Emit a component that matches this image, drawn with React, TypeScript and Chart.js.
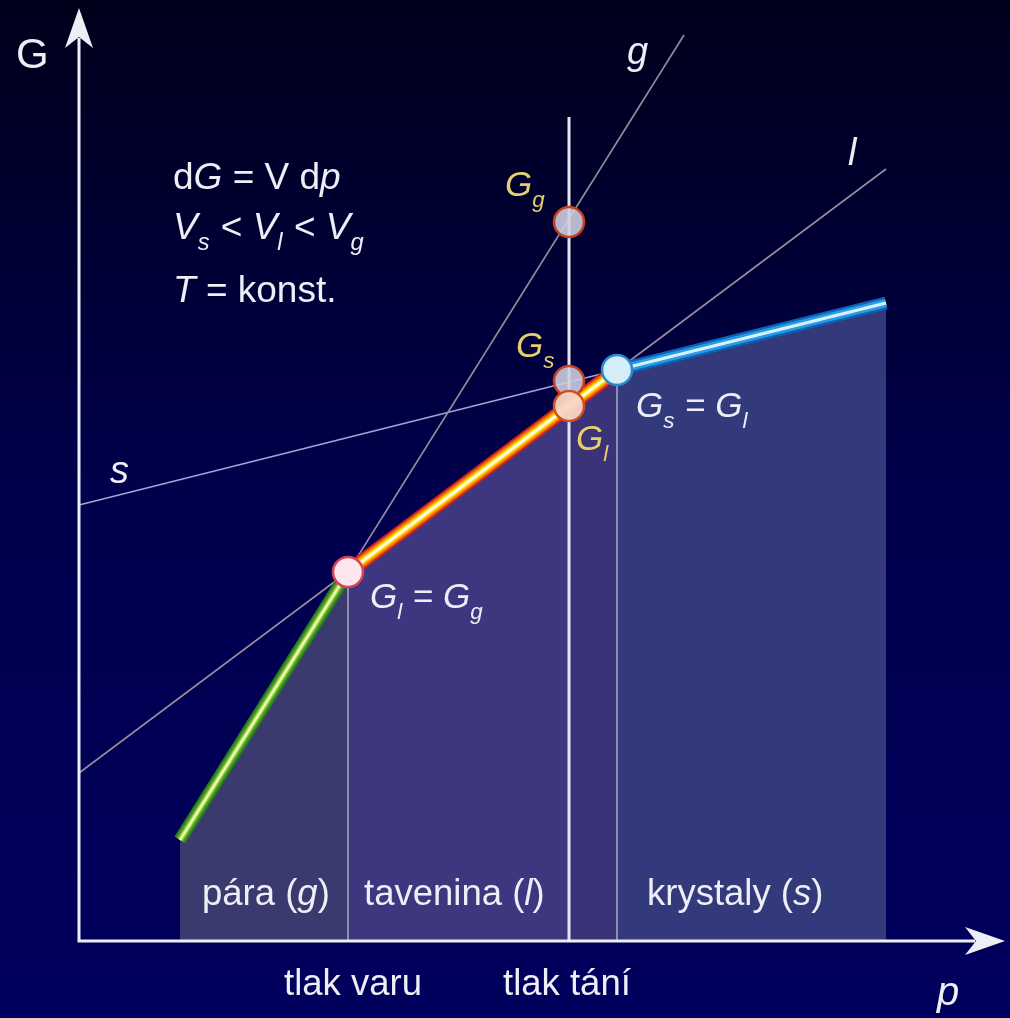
import React, { useEffect, useRef } from "react";
import { Chart, registerables } from "chart.js";

Chart.register(...registerables);

// ---- data (abstract units: p along x, G along y) ----
const boundaryP = [26.9, 53.8]; // tlak varu, rovnováha Gs = Gl
const boundaryTopG = [36.9, 57.1];
const meltP = 49.0; // tlak tání
const meltTopG = 82.4;

const gasP = [10.1, 26.9];
const gasG = [10.1, 36.9];
const liquidP = [26.9, 49.0];
const liquidG = [36.9, 53.5];
const liquidP2 = [49.0, 53.8];
const liquidG2 = [53.5, 57.1];
const solidP = [53.8, 80.7];
const solidG = [57.1, 63.8];

const gLineP = [26.9, 60.5];
const gLineG = [36.9, 90.6];
const lLineP = [0, 80.7];
const lLineG = [16.8, 77.2];
const sLineP = [0, 53.8];
const sLineG = [43.6, 57.1];

const markerP = [26.9, 49.0, 49.0, 49.0, 53.8];
const markerG = [36.9, 71.9, 56.0, 53.5, 57.1];

const phaseLabels = ["pára (", "tavenina (", "krystaly ("];
const phaseSymbols = ["g", "l", "s"];
const pressureLabels = ["tlak varu", "tlak tání"];

const pts = (xs: number[], ys: number[]) => xs.map((x, i) => ({ x, y: ys[i] }));

const FONT = "'Liberation Sans', Arial, Helvetica, sans-serif";
const WHITE = "#eeeef6";
const YELLOW = "#e6cf6c";

type Seg = [string, string?];

function drawRich(ctx: CanvasRenderingContext2D, x: number, y: number, size: number, color: string, segs: Seg[]) {
  let cx = x;
  ctx.fillStyle = color;
  ctx.textBaseline = "alphabetic";
  ctx.textAlign = "left";
  for (const [t, f = ""] of segs) {
    const italic = f.includes("i");
    const sub = f.includes("s");
    const sz = sub ? size * 0.64 : size;
    ctx.font = `${italic ? "italic " : ""}${sz}px ${FONT}`;
    ctx.fillText(t, cx, sub ? y + size * 0.3 : y);
    cx += ctx.measureText(t).width + (sub ? 1 : 0);
  }
}

function arrow(ctx: CanvasRenderingContext2D, tx: number, ty: number, dx: number, dy: number) {
  const len = 40, half = 14, notch = 11;
  const bx = tx - dx * len, by = ty - dy * len;
  const px = -dy, py = dx;
  ctx.beginPath();
  ctx.moveTo(tx, ty);
  ctx.lineTo(bx + px * half, by + py * half);
  ctx.lineTo(tx - dx * (len - notch), ty - dy * (len - notch));
  ctx.lineTo(bx - px * half, by - py * half);
  ctx.closePath();
  ctx.fill();
}

const bgPlugin = {
  id: "bg",
  beforeDraw(chart: any) {
    const { ctx, width, height } = chart;
    const g = ctx.createLinearGradient(0, 0, 0, height);
    g.addColorStop(0, "#00001c");
    g.addColorStop(0.5, "#00004e");
    g.addColorStop(1, "#00005e");
    ctx.save();
    ctx.fillStyle = g;
    ctx.fillRect(0, 0, width, height);
    ctx.restore();
  },
};

const overlayPlugin = {
  id: "overlay",
  afterDatasetsDraw(chart: any) {
    const { ctx } = chart;
    const xs = chart.scales.x, ys = chart.scales.y;
    const x0 = xs.getPixelForValue(0);
    const y0 = ys.getPixelForValue(0);
    const xTip = xs.getPixelForValue(92.6);
    const yTip = ys.getPixelForValue(93.3);
    ctx.save();
    ctx.strokeStyle = WHITE;
    ctx.fillStyle = WHITE;
    ctx.lineWidth = 3;
    ctx.beginPath();
    ctx.moveTo(x0, y0);
    ctx.lineTo(x0, yTip + 30);
    ctx.moveTo(x0 - 1.5, y0);
    ctx.lineTo(xTip - 30, y0);
    ctx.stroke();
    arrow(ctx, x0, yTip, 0, -1);
    arrow(ctx, xTip, y0, 1, 0);

    // axis labels
    drawRich(ctx, 16, 68, 42, WHITE, [["G"]]);
    drawRich(ctx, 937, 1005, 40, WHITE, [["p", "i"]]);
    // line labels
    drawRich(ctx, 627, 64, 38, WHITE, [["g", "i"]]);
    drawRich(ctx, 848, 165, 38, WHITE, [["l", "i"]]);
    drawRich(ctx, 110, 483, 38, WHITE, [["s", "i"]]);
    // formulas
    drawRich(ctx, 173, 189, 37, WHITE, [["d"], ["G", "i"], [" = V d"], ["p", "i"]]);
    drawRich(ctx, 173, 239, 37, WHITE, [["V", "i"], ["s", "is"], [" < "], ["V", "i"], ["l", "is"], [" < "], ["V", "i"], ["g", "is"]]);
    drawRich(ctx, 173, 302, 37, WHITE, [["T", "i"], [" = konst."]]);
    // point labels
    drawRich(ctx, 505, 196, 35, YELLOW, [["G", "i"], ["g", "is"]]);
    drawRich(ctx, 516, 357, 35, YELLOW, [["G", "i"], ["s", "is"]]);
    drawRich(ctx, 576, 450, 35, YELLOW, [["G", "i"], ["l", "is"]]);
    drawRich(ctx, 636, 417, 35, WHITE, [["G", "i"], ["s", "is"], [" = "], ["G", "i"], ["l", "is"]]);
    drawRich(ctx, 370, 608, 35, WHITE, [["G", "i"], ["l", "is"], [" = "], ["G", "i"], ["g", "is"]]);
    // phase labels
    const phaseX = [202, 364, 647];
    phaseLabels.forEach((t, i) => {
      drawRich(ctx, phaseX[i], 905, 36.5, WHITE, [[t], [phaseSymbols[i], "i"], [")"]]);
    });
    const pressX = [284, 503];
    pressureLabels.forEach((t, i) => drawRich(ctx, pressX[i], 995, 36.5, WHITE, [[t]]));
    ctx.restore();
  },
};

function line(data: any[], color: string, width: number, order: number, extra: any = {}) {
  return {
    data,
    borderColor: color,
    borderWidth: width,
    pointRadius: 0,
    fill: false,
    tension: 0,
    order,
    borderCapStyle: "butt",
    ...extra,
  };
}

function fillArea(data: any[], color: string, order: number) {
  return {
    data,
    borderColor: "rgba(0,0,0,0)",
    borderWidth: 0,
    backgroundColor: color,
    pointRadius: 0,
    fill: "origin",
    order,
  };
}

export default function App() {
  const ref = useRef<HTMLCanvasElement>(null);
  useEffect(() => {
    if (!ref.current) return;
    const gas = pts(gasP, gasG);
    const liq = pts(liquidP, liquidG);
    const liq2 = pts(liquidP2, liquidG2);
    const sol = pts(solidP, solidG);
    const liqAll = [...liq, liq2[1]];
    const datasets: any[] = [
      fillArea(gas, "#3a3a6f", 100),
      fillArea(liq, "#3f3680", 99),
      fillArea(liq2, "#3b3378", 98),
      fillArea(sol, "#333a7b", 97),
      line([{ x: boundaryP[0], y: 0 }, { x: boundaryP[0], y: boundaryTopG[0] }], "#8d8db4", 2, 90),
      line([{ x: boundaryP[1], y: 0 }, { x: boundaryP[1], y: boundaryTopG[1] }], "#8d8db4", 2, 90),
      line(pts(gLineP, gLineG), "#8f8f99", 1.6, 85),
      line(pts(lLineP, lLineG), "#9a8a9c", 1.6, 85),
      line(pts(sLineP, sLineG), "#9fa6d6", 1.6, 85),
      line([{ x: meltP, y: 0 }, { x: meltP, y: meltTopG }], "#e6e6f2", 3, 80),
      line(gas, "#2a7a1a", 13, 72),
      line(gas, "#4f9e2a", 9, 71),
      line(gas, "#a8d850", 5, 70),
      line(gas, "#f0ffc0", 2, 69),
      line(liqAll, "#d82018", 15, 67),
      line(liqAll, "#f47800", 11, 66),
      line(liqAll, "#ffd400", 7, 65),
      line(liqAll, "#fffbe0", 3, 64),
      line(sol, "#0c62b6", 13, 63),
      line(sol, "#2a9ce6", 8.5, 62),
      line(sol, "#d4f2ff", 3, 61),
      {
        data: pts(markerP, markerG),
        showLine: false,
        pointRadius: 15,
        pointBorderWidth: 2.5,
        pointBackgroundColor: ["#fde6ee", "rgba(208,208,226,0.88)", "rgba(208,208,226,0.88)", "rgba(247,214,198,0.95)", "#d3eef8"],
        pointBorderColor: ["#d8405a", "#c4401e", "#c4401e", "#d0501e", "#2a88c8"],
        order: 10,
      },
    ];
    const chart = new Chart(ref.current, {
      type: "line",
      data: { datasets },
      options: {
        animation: false,
        responsive: false,
        devicePixelRatio: 1,
        layout: { padding: 0, autoPadding: false },
        events: [],
        scales: {
          x: { type: "linear", min: -7.9, max: 93.1, display: false },
          y: { type: "linear", min: -7.7, max: 94.1, display: false },
        },
        plugins: { legend: { display: false }, tooltip: { enabled: false } },
      },
      plugins: [bgPlugin, overlayPlugin],
    } as any);
    return () => chart.destroy();
  }, []);
  return (
    <div style={{ position: "absolute", left: 0, top: 0, width: 1010, height: 1018 }}>
      <canvas ref={ref} width={1010} height={1018} style={{ display: "block" }} />
    </div>
  );
}
